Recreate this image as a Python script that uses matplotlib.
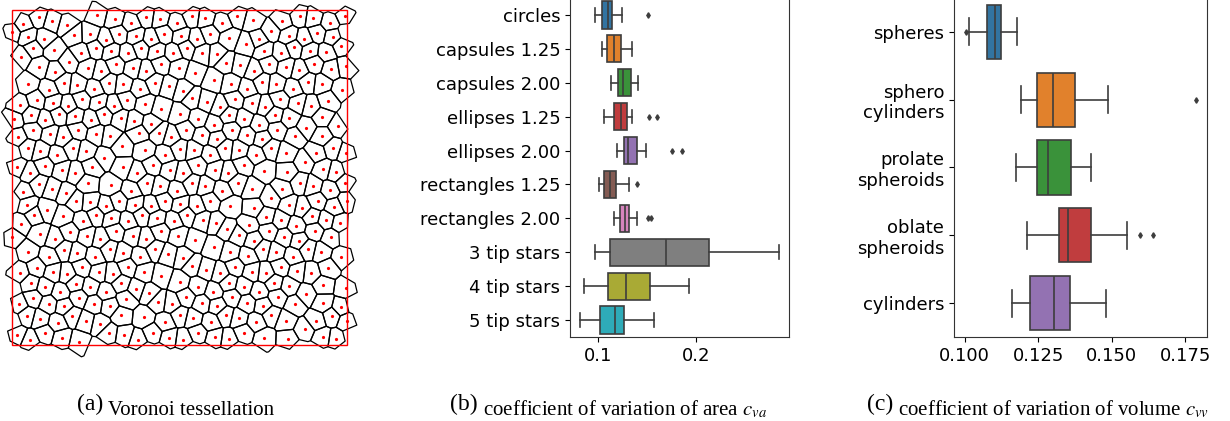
import numpy as np
import matplotlib
matplotlib.use('Agg')
import matplotlib.pyplot as plt
import matplotlib.tri as mtri
from matplotlib.collections import PolyCollection
from matplotlib.patches import Rectangle

# ---- box statistics, coefficient of variation of area (2D shapes) ----
shapes_2d = ['circles', 'capsules 1.25', 'capsules 2.00', 'ellipses 1.25', 'ellipses 2.00',
             'rectangles 1.25', 'rectangles 2.00', '3 tip stars', '4 tip stars', '5 tip stars']
area_whislo = [0.0966, 0.1034, 0.1126, 0.1058, 0.1194, 0.1010, 0.1161, 0.0966, 0.0857, 0.0813]
area_q1 = [0.1041, 0.1089, 0.1201, 0.1164, 0.1259, 0.1054, 0.1218, 0.1123, 0.1102, 0.1020]
area_med = [0.1095, 0.1161, 0.1253, 0.1228, 0.1307, 0.1116, 0.1269, 0.1689, 0.1280, 0.1167]
area_q3 = [0.1136, 0.1228, 0.1334, 0.1290, 0.1396, 0.1181, 0.1314, 0.2126, 0.1525, 0.1259]
area_whishi = [0.1242, 0.1341, 0.1406, 0.1341, 0.1484, 0.1317, 0.1392, 0.2842, 0.1921, 0.1566]
area_fliers = [[0.1508], [], [], [0.1512, 0.1594], [0.1754, 0.1853],
               [0.1399], [0.1507, 0.1542], [], [], []]

# ---- box statistics, coefficient of variation of volume (3D shapes) ----
shapes_3d = ['spheres', 'sphero\ncylinders', 'prolate\nspheroids', 'oblate\nspheroids', 'cylinders']
vol_whislo = [0.1016, 0.1190, 0.1174, 0.1212, 0.1160]
vol_q1 = [0.1077, 0.1247, 0.1247, 0.1320, 0.1222]
vol_med = [0.1103, 0.1301, 0.1284, 0.1352, 0.1305]
vol_q3 = [0.1125, 0.1376, 0.1360, 0.1428, 0.1359]
vol_whishi = [0.1178, 0.1489, 0.1431, 0.1553, 0.1482]
vol_fliers = [[0.1003], [0.1785], [], [0.1597, 0.1639], []]

palette = ['#3274a1', '#e1812c', '#3a923a', '#c03d3e', '#9372b2',
           '#845b53', '#d684bd', '#7f7f7f', '#a9aa35', '#2eabb8']
line_gray = '#3d3d3d'

# seeds for the tessellation: staggered lattice with low-discrepancy offsets
n_side = 20


def make_seeds(n):
    k = np.arange(n * n)
    row, col = np.divmod(k, n)
    g = 1.32471795724474602596
    m = (k * 131) % (n * n)
    ox = (0.5 + m / g) % 1.0 - 0.5
    oy = (0.5 + m / g**2) % 1.0 - 0.5
    x = (col + 0.25 + 0.5 * (row % 2) + 1.0 * ox) / n
    y = (row + 0.5 + 1.0 * oy) / n
    return np.column_stack([x, y]) % 1.0


def voronoi_cells(pts, margin=0.2):
    n = len(pts)
    allp = [pts]
    for sx in (-1, 0, 1):
        for sy in (-1, 0, 1):
            if sx == 0 and sy == 0:
                continue
            q = pts + [sx, sy]
            keep = (q[:, 0] > -margin) & (q[:, 0] < 1 + margin) & (q[:, 1] > -margin) & (q[:, 1] < 1 + margin)
            allp.append(q[keep])
    allp = np.vstack(allp)
    x, y = allp[:, 0], allp[:, 1]
    tris = mtri.Triangulation(x, y).triangles
    ax_, ay_ = x[tris[:, 0]], y[tris[:, 0]]
    bx_, by_ = x[tris[:, 1]], y[tris[:, 1]]
    cx_, cy_ = x[tris[:, 2]], y[tris[:, 2]]
    d = 2 * (ax_ * (by_ - cy_) + bx_ * (cy_ - ay_) + cx_ * (ay_ - by_))
    a2, b2, c2 = ax_**2 + ay_**2, bx_**2 + by_**2, cx_**2 + cy_**2
    ux = (a2 * (by_ - cy_) + b2 * (cy_ - ay_) + c2 * (ay_ - by_)) / d
    uy = (a2 * (cx_ - bx_) + b2 * (ax_ - cx_) + c2 * (bx_ - ax_)) / d
    cells = []
    for i in range(n):
        mask = (tris == i).any(axis=1)
        cxs, cys = ux[mask], uy[mask]
        ang = np.arctan2(cys - y[i], cxs - x[i])
        order = np.argsort(ang)
        cells.append(np.column_stack([cxs[order], cys[order]]))
    return cells


def centroid(poly):
    x, y = poly[:, 0], poly[:, 1]
    xn, yn = np.roll(x, -1), np.roll(y, -1)
    cr = x * yn - xn * y
    a = cr.sum() / 2
    return np.array([((x + xn) * cr).sum() / (6 * a), ((y + yn) * cr).sum() / (6 * a)])


seeds = make_seeds(n_side)
# one Lloyd step so the cells are not too uneven
cells = voronoi_cells(seeds)
seeds = np.array([centroid(c) for c in cells]) % 1.0
cells = voronoi_cells(seeds)

plt.rcParams['font.family'] = ['DejaVu Sans']
plt.rcParams['mathtext.fontset'] = 'stix'
fig = plt.figure(figsize=(12.3, 4.21), dpi=100)
W, H = 1230, 421


def px_axes(left, top, right, bottom):
    return fig.add_axes([left / W, 1 - bottom / H, (right - left) / W, (bottom - top) / H])


# (a) Voronoi tessellation
ax_a = px_axes(12, 10, 347, 345)
ax_a.add_collection(PolyCollection(cells, facecolors='none', edgecolors='black', linewidths=0.9, clip_on=False))
ax_a.plot(seeds[:, 0], seeds[:, 1], 'o', color='red', ms=2.3, mew=0, clip_on=False)
ax_a.add_patch(Rectangle((0, 0), 1, 1, fill=False, edgecolor='red', lw=1.0, clip_on=False))
ax_a.set_xlim(0, 1)
ax_a.set_ylim(0, 1)
ax_a.axis('off')


def draw_boxes(ax, labels, wlo, q1, med, q3, whi, fliers):
    stats = []
    for i in range(len(labels)):
        stats.append(dict(whislo=wlo[i], q1=q1[i], med=med[i], q3=q3[i], whishi=whi[i], fliers=fliers[i]))
    art = ax.bxp(stats, positions=range(len(labels)), widths=0.8, orientation='horizontal',
                 patch_artist=True, showfliers=True,
                 boxprops=dict(edgecolor=line_gray, linewidth=1.2),
                 medianprops=dict(color=line_gray, linewidth=1.2),
                 whiskerprops=dict(color=line_gray, linewidth=1.2),
                 capprops=dict(color=line_gray, linewidth=1.2),
                 flierprops=dict(marker='d', markersize=2.8, markerfacecolor=line_gray,
                                 markeredgecolor=line_gray, linestyle='none'))
    for patch, c in zip(art['boxes'], palette):
        patch.set_facecolor(c)
    allv = wlo + whi + [v for f in fliers for v in f]
    lo, hi = min(allv), max(allv)
    pad = 0.05 * (hi - lo)
    ax.set_xlim(lo - pad, hi + pad)
    ax.set_ylim(len(labels) - 0.5, -0.5)
    ax.set_yticks(range(len(labels)))
    ax.set_yticklabels(labels)
    ax.tick_params(labelsize=13)
    for s in ax.spines.values():
        s.set_color('#333333')


# (b) area
ax_b = px_axes(570, -2, 789, 337)
draw_boxes(ax_b, shapes_2d, area_whislo, area_q1, area_med, area_q3, area_whishi, area_fliers)
ax_b.set_xticks([0.1, 0.2])
ax_b.set_xticklabels(['0.1', '0.2'])

# (c) volume
ax_c = px_axes(954, -2, 1207, 337)
draw_boxes(ax_c, shapes_3d, vol_whislo, vol_q1, vol_med, vol_q3, vol_whishi, vol_fliers)
ax_c.set_xticks([0.100, 0.125, 0.150, 0.175])
ax_c.set_xticklabels(['0.100', '0.125', '0.150', '0.175'])

# sub-captions: larger tag, then the caption body right after it
serif = ['Liberation Serif', 'DejaVu Serif']
captions = [(77, '(a)', ' Voronoi tessellation'),
            (450, '(b)', r' coefficient of variation of area $c_{va}$'),
            (867, '(c)', r' coefficient of variation of volume $c_{vv}$')]
for x0, tag, body in captions:
    t = fig.text(x0 / W, 1 - 410 / H, tag, family=serif, fontsize=17, va='baseline', ha='left')
    fig.add_artist(matplotlib.text.Annotation(body, xy=(1, 0), xycoords=t, xytext=(0, 0),
                                              textcoords='offset points', family=serif, fontsize=15,
                                              va='baseline', ha='left', annotation_clip=False))

fig.savefig('out.png', dpi=100)
